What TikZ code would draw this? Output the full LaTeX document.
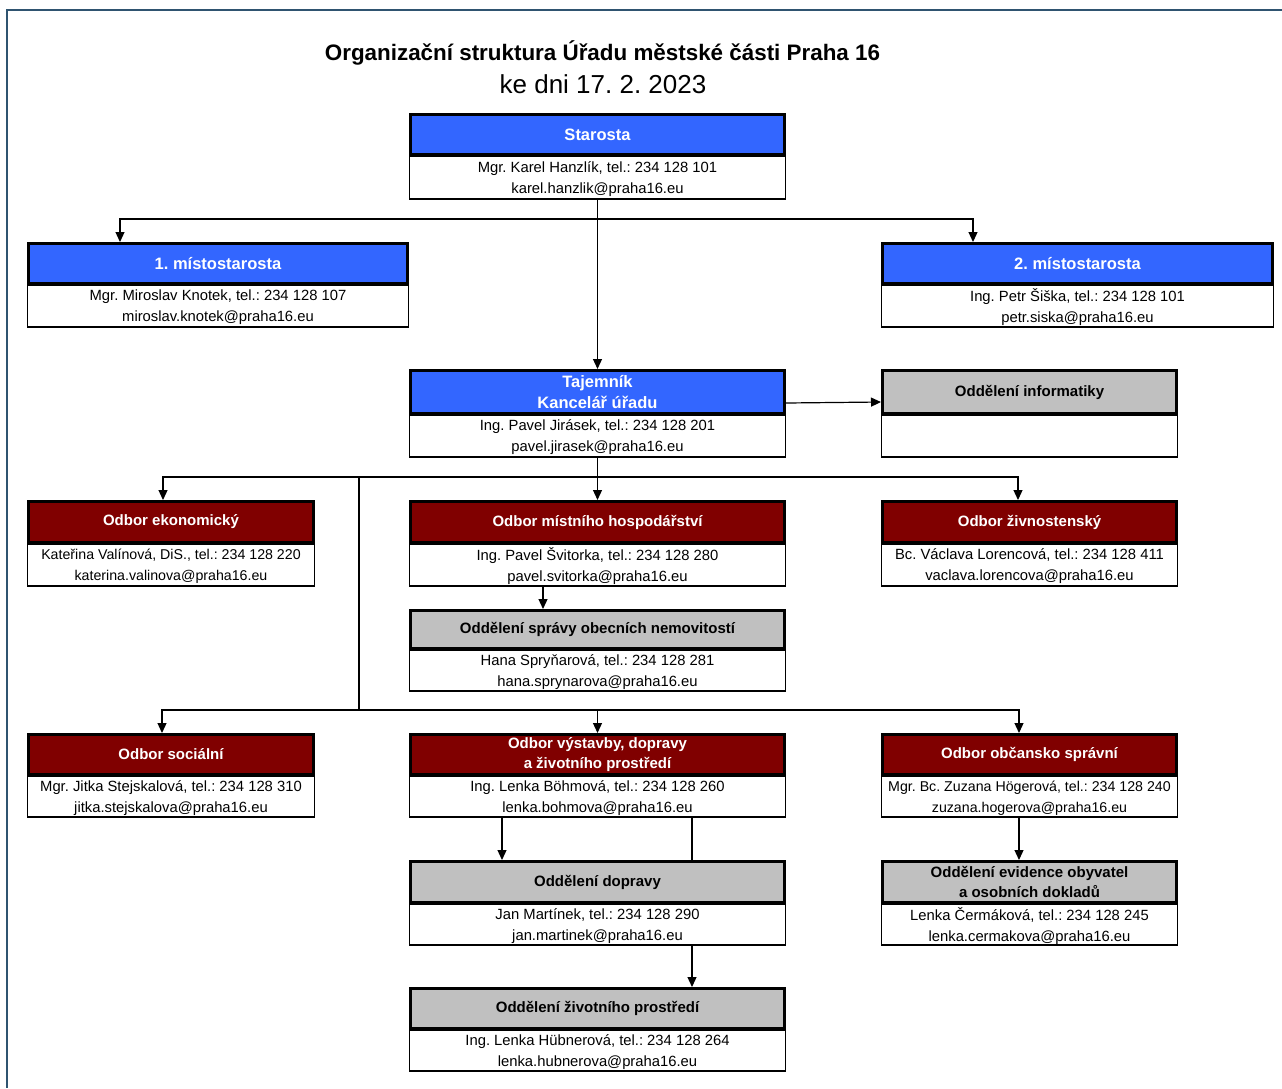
\documentclass[tikz,border=0pt]{standalone}
\usepackage{fontspec}
\setmainfont{Liberation Sans}
\usetikzlibrary{arrows.meta,calc}
\definecolor{hblue}{RGB}{51,102,255}
\definecolor{hred}{RGB}{128,0,0}
\definecolor{hgray}{RGB}{192,192,192}
\definecolor{framecol}{RGB}{47,84,112}
\newcommand\hdrfont{\fontsize{15}{20}\selectfont\bfseries}
\newcommand\hdrbigfont{\fontsize{16.5}{21}\selectfont\bfseries}
\newcommand\infofont{\fontsize{14.8}{21}\selectfont}
\newcommand\narrowfont{\fontsize{14.2}{21}\selectfont}
\frenchspacing
\tikzset{
  hdrbox/.style={draw=black, line width=3pt, outer sep=1.5pt, inner sep=0pt, align=center, font=\hdrfont, text=white},
  hdrblue/.style={fill=hblue, font=\hdrbigfont},
  hdrred/.style={fill=hred},
  hdrgray/.style={fill=hgray, text=black},
  infobox/.style={draw=black, line width=1.2pt, outer sep=0pt, inner sep=0pt, align=center, font=\infofont, fill=white, text depth=0pt},
  con/.style={draw=black, line width=1.2pt},
  arr/.style={con, -{Triangle[length=10pt,width=9pt]}},
}
% name, left, right, top, mid, bottom, style, header, info
\newcommand\obox[9]{%
  \node[infobox, minimum width={#3-#2-1.2}, minimum height={#6-#5}, anchor=north] (#1i) at ({(#2+#3)/2},#5) {#9};
  \node[hdrbox, #7, minimum width={#3-#2-3}, minimum height={#5-#4-3}, anchor=north] (#1) at ({(#2+#3)/2},#4) {#8};
}
\begin{document}
\begin{tikzpicture}[x=1pt,y=-1pt]
\useasboundingbox (0,0) rectangle (1282,1088);
\fill[white] (0,0) rectangle (1282,1088);
\draw[framecol, line width=1.5pt] (1282,10) -- (7,10) -- (7,1088);

\node[font=\fontsize{22.4}{26}\selectfont\bfseries] (title) at (602.5,53) {Organizační struktura Úřadu městské části Praha 16};
\node[font=\fontsize{26}{30}\selectfont] (subtitle) at (603,84) {ke dni 17. 2. 2023};

\obox{sta}{409}{786}{113}{156}{199}{hdrblue}{Starosta}{Mgr. Karel Hanzlík, tel.: 234 128 101\\karel.hanzlik@praha16.eu}
\obox{ma}{27}{409}{242}{285}{327}{hdrblue}{1. místostarosta}{Mgr. Miroslav Knotek, tel.: 234 128 107\\miroslav.knotek@praha16.eu}
\obox{mb}{881}{1274}{242}{285}{327}{hdrblue}{2. místostarosta}{Ing. Petr Šiška, tel.: 234 128 101\\petr.siska@praha16.eu}
\obox{taj}{409}{786}{369}{415}{457}{hdrblue}{Tajemník\\Kancelář úřadu}{Ing. Pavel Jirásek, tel.: 234 128 201\\pavel.jirasek@praha16.eu}
\obox{inf}{881}{1178}{369}{415}{457}{hdrgray}{Oddělení informatiky}{}
\obox{ek}{27}{315}{500}{544}{586}{hdrred}{Odbor ekonomický}{{\narrowfont Kateřina Valínová, DiS., tel.: 234 128 220}\\{\narrowfont katerina.valinova@praha16.eu}}
\obox{mh}{409}{786}{500}{544}{586}{hdrred}{Odbor místního hospodářství}{Ing. Pavel Švitorka, tel.: 234 128 280\\pavel.svitorka@praha16.eu}
\obox{zi}{881}{1178}{500}{544}{586}{hdrred}{Odbor živnostenský}{Bc. Václava Lorencová, tel.: 234 128 411\\vaclava.lorencova@praha16.eu}
\obox{sp}{409}{786}{609}{650}{691}{hdrgray}{Oddělení správy obecních nemovitostí}{Hana Spryňarová, tel.: 234 128 281\\hana.sprynarova@praha16.eu}
\obox{so}{27}{315}{733}{776}{817}{hdrred}{Odbor sociální}{Mgr. Jitka Stejskalová, tel.: 234 128 310\\jitka.stejskalova@praha16.eu}
\obox{vy}{409}{786}{733}{776}{817}{hdrred}{Odbor výstavby, dopravy\\a životního prostředí}{Ing. Lenka Böhmová, tel.: 234 128 260\\lenka.bohmova@praha16.eu}
\obox{ob}{881}{1178}{733}{776}{817}{hdrred}{Odbor občansko správní}{{\narrowfont Mgr. Bc. Zuzana Högerová, tel.: 234 128 240}\\{\narrowfont zuzana.hogerova@praha16.eu}}
\obox{do}{409}{786}{860}{904}{945}{hdrgray}{Oddělení dopravy}{Jan Martínek, tel.: 234 128 290\\jan.martinek@praha16.eu}
\obox{ev}{881}{1178}{860}{904}{945}{hdrgray}{Oddělení evidence obyvatel\\a osobních dokladů}{Lenka Čermáková, tel.: 234 128 245\\lenka.cermakova@praha16.eu}
\obox{zp}{409}{786}{987}{1030}{1071}{hdrgray}{Oddělení životního prostředí}{Ing. Lenka Hübnerová, tel.: 234 128 264\\lenka.hubnerova@praha16.eu}

% junction coordinates
\coordinate (j1) at (597.5,219);
\coordinate (k1) at (120,219);
\coordinate (k2) at (973,219);
\coordinate (j2) at (597.5,477);
\coordinate (k3) at (163,477);
\coordinate (k4) at (1018,477);
\coordinate (k5) at (359,477);
\coordinate (j3) at (359,710);
\coordinate (k6) at (162,710);
\coordinate (k7) at (597.5,710);
\coordinate (k8) at (1019,710);
\coordinate (k9) at (543,0);
\coordinate (k10) at (502,0);
\coordinate (k11) at (692,0);
\coordinate (k12) at (1019,0);

\draw[con] (stai.south) -- (j1);
\draw[arr] (j1) -- (k1) -- (k1 |- ma.north);
\draw[arr] (j1) -- (k2) -- (k2 |- mb.north);
\draw[arr] (j1) -- (taj.north);
\draw[arr] ([yshift=-11pt]taj.east) -- ([yshift=-10pt]inf.west);

\draw[con] (taji.south) -- (j2);
\draw[arr] (j2) -- (k3) -- (k3 |- ek.north);
\draw[arr] (j2) -- (mh.north);
\draw[arr] (j2) -- (k4) -- (k4 |- zi.north);
\draw[con] (k5) -- (j3);
\draw[arr] (j3) -- (k6) -- (k6 |- so.north);
\draw[arr] (j3) -- (k7) -- (k7 |- vy.north);
\draw[arr] (k7) -- (k8) -- (k8 |- ob.north);

\draw[arr] (k9 |- mhi.south) -- (k9 |- sp.north);
\draw[arr] (k10 |- vyi.south) -- (k10 |- do.north);
\draw[con] (k11 |- vyi.south) -- (k11 |- do.north);
\draw[arr] (k11 |- doi.south) -- (k11 |- zp.north);
\draw[arr] (k12 |- obi.south) -- (k12 |- ev.north);
\end{tikzpicture}
\end{document}
